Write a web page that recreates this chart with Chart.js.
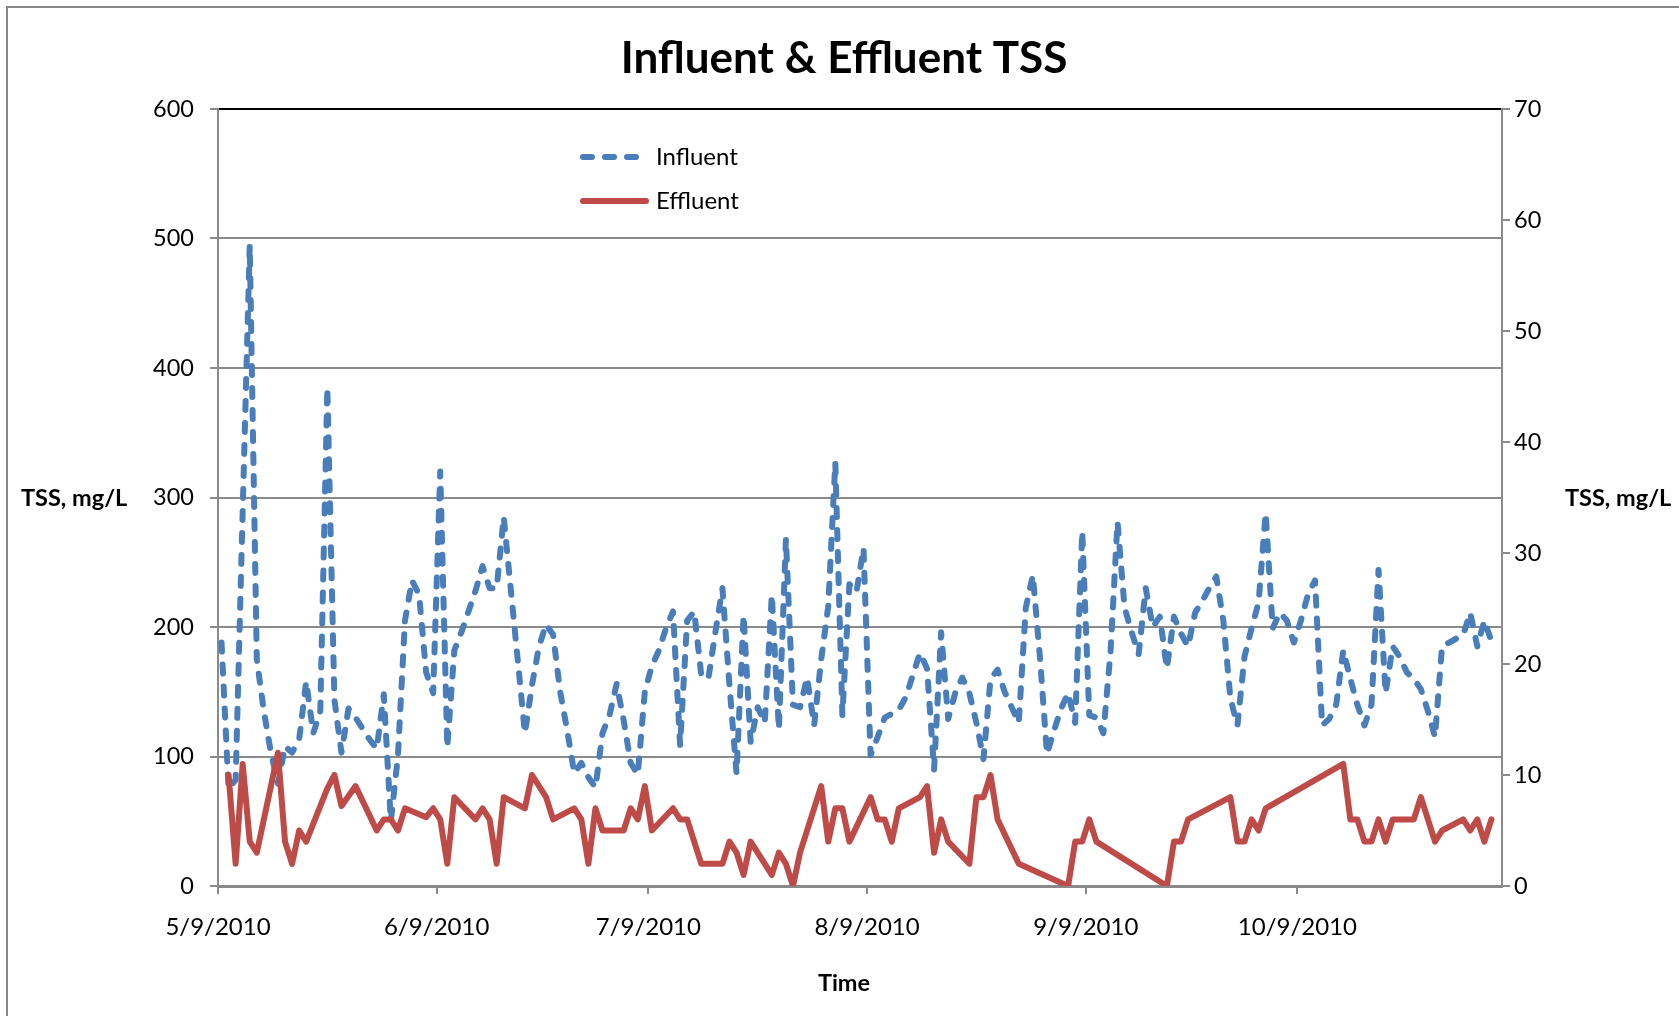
<!DOCTYPE html>
<html>
<head>
<meta charset="utf-8">
<script src="https://cdn.jsdelivr.net/npm/chart.js@4.4.0/dist/chart.umd.min.js"></script>
<style>
  html, body { margin: 0; padding: 0; background: #fff; }
  #wrap { width: 1679px; height: 1016px; position: relative; }
</style>
</head>
<body>
<div id="wrap"><canvas id="c" width="1679" height="1016"></canvas></div>
<script>
// ---- Data (days are offsets from 5/9/2010) ----
const startYear = 2010, startMonth = 4, startDay = 9;

const infDays = [0,1,2,3,4,5,6,7,8,9,10,11,12,13,14,15,16,17,18,19,21,22,23,24,25,26,27,28,29,30,
  31,32,33,34,36,37,38,39,40,41,42,43,44,45,46,47,48,49,50,51,52,53,54,55,56,57,58,59,60,
  61,62,63,64,65,66,67,68,69,70,71,72,73,74,75,76,77,78,79,80,81,82,83,84,85,86,87,88,89,90,
  91,92,93,94,96,97,98,99,100,101,102,103,104,105,106,107,108,109,110,111,112,113,114,115,116,117,118,119,120,
  121,122,123,124,125,126,127,128,129,130,131,132,133,134,135,136,137,138,139,140,141,142,143,144,145,146,147,148,149,150,
  151,152,153,154,155,156,157,158,159,160,161,162,163,164,165,166,167,168,169,170,171,172,173,174,176,177,178,179,180];
const infValues = [188,75,82,290,495,175,135,103,79,108,103,113,158,118,135,385,144,103,137,130,113,106,148,50,100,205,236,225,165,149,
  320,107,182,196,228,247,230,230,285,229,174,118,155,185,202,194,150,120,87,95,84,76,118,132,156,128,95,86,150,
  170,182,199,212,109,205,212,163,160,196,230,155,87,209,111,138,126,225,121,268,140,138,161,124,175,216,327,132,233,227,
  261,101,115,130,136,146,163,180,168,90,196,129,149,161,149,126,98,160,167,150,138,126,215,240,177,102,120,137,149,
  126,274,132,130,118,180,281,215,196,179,230,200,208,168,208,195,185,211,220,230,239,205,145,124,177,199,219,288,199,211,
  205,188,205,225,236,124,129,140,182,160,140,124,140,244,149,185,177,165,160,152,135,115,185,188,194,211,185,205,189];

const effDays = [1,2,3,4,5,8,9,10,11,12,15,16,17,19,22,23,24,25,26,29,30,31,32,33,36,37,38,39,40,43,44,46,47,50,51,52,53,54,57,58,59,60,
  61,64,65,66,68,71,72,73,74,75,78,79,80,81,82,85,86,87,88,89,92,93,94,95,96,99,100,101,102,103,106,107,108,109,110,113,
  120,121,122,123,124,134,135,136,137,143,144,145,146,147,148,159,160,161,162,163,164,165,166,169,170,172,173,176,177,178,179,180];
const effValues = [10,2,11,4,3,12,4,2,5,4,8.8,10,7.2,9,5,6,6,5,7,6.2,7,6,2,8,6,7,6,2,8,7,10,8,6,7,6,2,7,5,5,7,6,9,
  5,7,6,6,2,2,4,3,1,4,1,3,2,0,3,9,4,7,7,4,8,6,6,4,7,8,9,3,6,4,2,8,8,10,6,2,
  0,4,4,6,4,0,4,4,6,8,4,4,6,5,7,11,6,6,4,4,6,4,6,6,8,4,5,6,5,6,4,6];

const xTickDays = [0, 31, 61, 92, 123, 153];
const leftTicks = [0, 100, 200, 300, 400, 500, 600];
const rightTicks = [0, 10, 20, 30, 40, 50, 60, 70];
const seriesNames = ['Influent', 'Effluent'];
const chartTitle = 'Influent & Effluent TSS';
const yTitle = 'TSS, mg/L';
const xTitle = 'Time';

// ---- Helpers ----
function dayLabel(d) {
  const dt = new Date(startYear, startMonth, startDay + d);
  return (dt.getMonth() + 1) + '/' + dt.getDate() + '/' + dt.getFullYear();
}
// Excel date axis centres a point in its day slot
const infData = infDays.map((d, i) => ({ x: d + 0.5, y: infValues[i] }));
const effData = effDays.map((d, i) => ({ x: d + 0.5, y: effValues[i] }));

const BLUE = '#4A7EBB';
const RED = '#BE4B48';
const GRID = '#8a8a8a';
const FONT = 'Lato';
const LW = 6;
const DASH = [9, 13];

const decor = {
  id: 'decor',
  beforeDraw(chart) {
    const ctx = chart.ctx;
    ctx.save();
    ctx.fillStyle = '#fff';
    ctx.fillRect(0, 0, chart.width, chart.height);
    ctx.strokeStyle = '#888';
    ctx.lineWidth = 2;
    ctx.beginPath();
    ctx.moveTo(7, chart.height);
    ctx.lineTo(7, 7);
    ctx.lineTo(chart.width, 7);
    ctx.stroke();
    ctx.restore();
  },
  afterDraw(chart) {
    const ctx = chart.ctx;
    ctx.save();
    ctx.fillStyle = '#000';
    // title
    ctx.font = 'bold 44px ' + FONT;
    ctx.textAlign = 'center';
    ctx.textBaseline = 'alphabetic';
    ctx.fillText(chartTitle, 844, 73);
    // axis titles
    ctx.font = 'bold 23.5px ' + FONT;
    ctx.textBaseline = 'middle';
    ctx.textAlign = 'left';
    ctx.fillText(yTitle, 21, 498);
    ctx.fillText(yTitle, 1565, 498);
    ctx.textAlign = 'center';
    ctx.fillText(xTitle, 844, 983);
    // legend
    const items = [
      { name: seriesNames[0], color: BLUE, dash: DASH, y: 157 },
      { name: seriesNames[1], color: RED, dash: [], y: 201 }
    ];
    ctx.font = '24px ' + FONT;
    ctx.textAlign = 'left';
    items.forEach(it => {
      ctx.strokeStyle = it.color;
      ctx.lineWidth = LW;
      ctx.lineCap = 'round';
      ctx.setLineDash(it.dash);
      ctx.beginPath();
      ctx.moveTo(583, it.y);
      ctx.lineTo(646, it.y);
      ctx.stroke();
      ctx.setLineDash([]);
      ctx.fillText(it.name, 656, it.y);
    });
    ctx.restore();
  }
};

new Chart(document.getElementById('c'), {
  type: 'line',
  data: {
    datasets: [
      {
        label: seriesNames[0], data: infData, yAxisID: 'y',
        borderColor: BLUE, borderWidth: LW, borderDash: DASH,
        borderCapStyle: 'round', borderJoinStyle: 'round',
        pointRadius: 0, tension: 0, fill: false, order: 2
      },
      {
        label: seriesNames[1], data: effData, yAxisID: 'y2',
        borderColor: RED, borderWidth: LW,
        borderCapStyle: 'round', borderJoinStyle: 'round',
        pointRadius: 0, tension: 0, fill: false, order: 1
      }
    ]
  },
  options: {
    responsive: false,
    animation: false,
    devicePixelRatio: 1,
    layout: { padding: { top: 109, left: 0, right: 0, bottom: 0 } },
    plugins: { legend: { display: false }, title: { display: false }, tooltip: { enabled: false } },
    scales: {
      x: {
        type: 'linear', min: 0, max: 182,
        afterFit(s) { s.height = 130; },
        afterBuildTicks(s) { s.ticks = xTickDays.map(v => ({ value: v })); },
        ticks: {
          callback: v => dayLabel(v), maxRotation: 0, autoSkip: false,
          color: '#000', font: { family: FONT, size: 24 }, padding: 19
        },
        grid: { drawOnChartArea: false, drawTicks: true, tickLength: 8, color: GRID, lineWidth: 2 },
        border: { color: GRID, width: 3 }
      },
      y: {
        position: 'left', min: 0, max: 600,
        afterFit(s) { s.width = 218; },
        afterBuildTicks(s) { s.ticks = leftTicks.map(v => ({ value: v })); },
        ticks: { color: '#000', font: { family: FONT, size: 23.5 }, padding: 16 },
        grid: {
          color: c => (c.tick && c.tick.value === 600 ? '#000' : GRID),
          lineWidth: 2, tickLength: 8, tickColor: GRID
        },
        border: { color: GRID, width: 2 }
      },
      y2: {
        position: 'right', min: 0, max: 70,
        afterFit(s) { s.width = 177; },
        afterBuildTicks(s) { s.ticks = rightTicks.map(v => ({ value: v })); },
        ticks: { color: '#000', font: { family: FONT, size: 23.5 }, padding: 4 },
        grid: { drawOnChartArea: false, tickLength: 8, color: GRID, lineWidth: 2 },
        border: { color: GRID, width: 2 }
      }
    }
  },
  plugins: [decor]
});
</script>
</body>
</html>
